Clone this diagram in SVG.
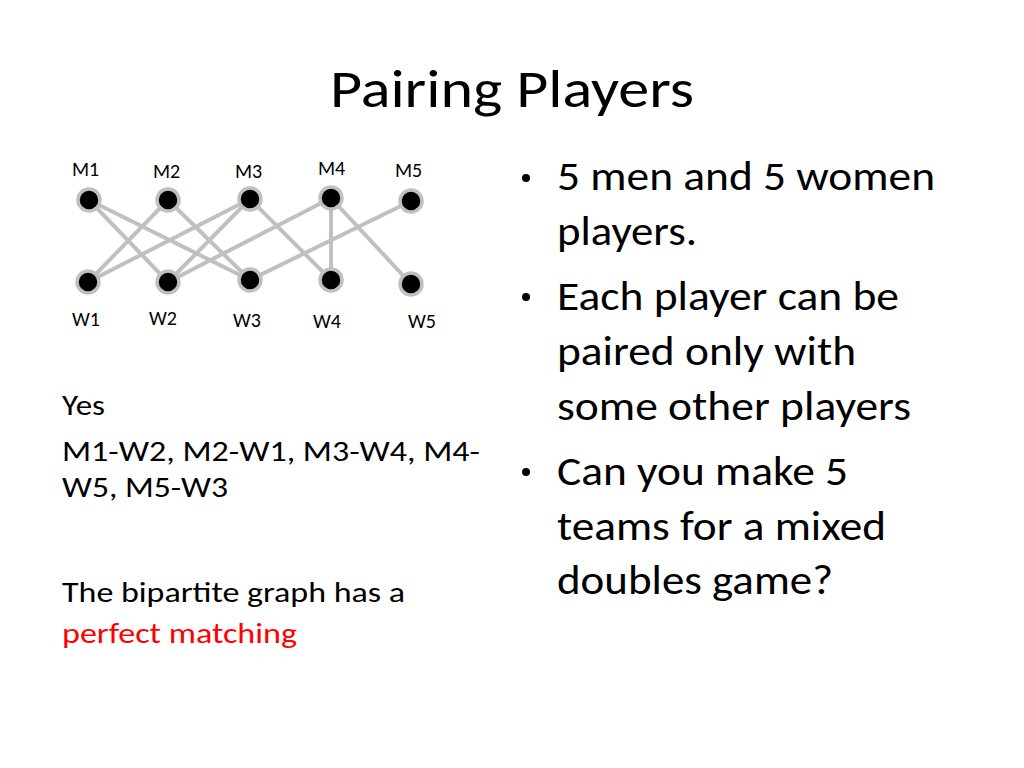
<svg xmlns="http://www.w3.org/2000/svg" width="1024" height="768" viewBox="0 0 1024 768">
<style>
text{font-family:Calibri,Carlito,"Liberation Sans",sans-serif;fill:#000}
.l{font-size:20px}
.n{fill:#000;stroke:#c0c0c0;stroke-width:3.5}
.e{stroke:#c0c0c0;stroke-width:4;fill:none}
.b{font-size:40px}
.t{font-size:29px}
</style>
<rect width="1024" height="768" fill="#fff"/>
<text x="330" y="107" font-size="54" textLength="364" lengthAdjust="spacingAndGlyphs">Pairing Players</text>
<g id="connectors">
<line class="e" x1="89" y1="200" x2="168" y2="282"/>
<line class="e" x1="89" y1="200" x2="250" y2="280"/>
<line class="e" x1="168" y1="200" x2="88" y2="282"/>
<line class="e" x1="168" y1="200" x2="250" y2="280"/>
<line class="e" x1="250" y1="199" x2="88" y2="282"/>
<line class="e" x1="250" y1="199" x2="168" y2="282"/>
<line class="e" x1="250" y1="199" x2="331" y2="280"/>
<line class="e" x1="331" y1="198" x2="168" y2="282"/>
<line class="e" x1="331" y1="198" x2="331" y2="280"/>
<line class="e" x1="331" y1="198" x2="411" y2="284"/>
<line class="e" x1="411" y1="201" x2="250" y2="280"/>
</g>
<g id="M1"><circle class="n" cx="89" cy="200" r="11"/><text class="l" x="72" y="176">M1</text></g>
<g id="M2"><circle class="n" cx="168" cy="200" r="11"/><text class="l" x="153" y="178">M2</text></g>
<g id="M3"><circle class="n" cx="250" cy="199" r="11"/><text class="l" x="235" y="178">M3</text></g>
<g id="M4"><circle class="n" cx="331" cy="198" r="11"/><text class="l" x="318" y="175">M4</text></g>
<g id="M5"><circle class="n" cx="411" cy="201" r="11"/><text class="l" x="395" y="177">M5</text></g>
<g id="W1"><circle class="n" cx="88" cy="282" r="11"/><text class="l" x="72" y="326">W1</text></g>
<g id="W2"><circle class="n" cx="168" cy="282" r="11"/><text class="l" x="149" y="325">W2</text></g>
<g id="W3"><circle class="n" cx="250" cy="280" r="11"/><text class="l" x="233" y="327">W3</text></g>
<g id="W4"><circle class="n" cx="331" cy="280" r="11"/><text class="l" x="313" y="328">W4</text></g>
<g id="W5"><circle class="n" cx="411" cy="284" r="11"/><text class="l" x="408" y="328">W5</text></g>
<text class="t" x="62" y="415" textLength="43" lengthAdjust="spacingAndGlyphs">Yes</text>
<text class="t" x="62" y="461" textLength="418" lengthAdjust="spacingAndGlyphs">M1-W2, M2-W1, M3-W4, M4-</text>
<text class="t" x="62" y="497" textLength="166" lengthAdjust="spacingAndGlyphs">W5, M5-W3</text>
<text class="t" x="62" y="602" textLength="343" lengthAdjust="spacingAndGlyphs">The bipartite graph has a</text>
<text class="t" x="62" y="643" textLength="235" lengthAdjust="spacingAndGlyphs" style="fill:#ff0000">perfect matching</text>
<g class="b">
<circle cx="526" cy="178" r="4"/><text x="557" y="190" textLength="378" lengthAdjust="spacingAndGlyphs">5 men and 5 women</text>
<text x="557" y="245" textLength="140" lengthAdjust="spacingAndGlyphs">players.</text>
<circle cx="526" cy="297" r="4"/><text x="557" y="310" textLength="342" lengthAdjust="spacingAndGlyphs">Each player can be</text>
<text x="557" y="365" textLength="299" lengthAdjust="spacingAndGlyphs">paired only with</text>
<text x="557" y="420" textLength="354" lengthAdjust="spacingAndGlyphs">some other players</text>
<circle cx="526" cy="472" r="4"/><text x="557" y="485" textLength="291" lengthAdjust="spacingAndGlyphs">Can you make 5</text>
<text x="557" y="540" textLength="329" lengthAdjust="spacingAndGlyphs">teams for a mixed</text>
<text x="557" y="594" textLength="276" lengthAdjust="spacingAndGlyphs">doubles game?</text>
</g>
</svg>
